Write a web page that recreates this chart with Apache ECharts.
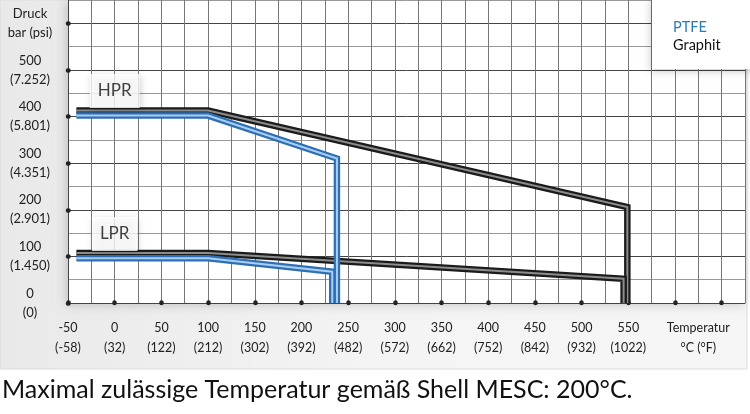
<!DOCTYPE html>
<html><head><meta charset="utf-8">
<script src="https://cdn.jsdelivr.net/npm/echarts@6/dist/echarts.min.js"></script>
<style>html,body{margin:0;padding:0;background:#fff}#c{width:750px;height:414px}</style>
</head><body><div id="c"></div>
<script>
// Tick values and labels
const xTickValues = [-50, 0, 50, 100, 150, 200, 250, 300, 350, 400, 450, 500, 550, 600, 650];
const xLabelValues = [-50, 0, 50, 100, 150, 200, 250, 300, 350, 400, 450, 500, 550, 625];
const xLabels = ['-50\n(-58)', '0\n(32)', '50\n(122)', '100\n(212)', '150\n(302)', '200\n(392)', '250\n(482)',
  '300\n(572)', '350\n(662)', '400\n(752)', '450\n(842)', '500\n(932)', '550\n(1022)', 'Temperatur\n°C (°F)'];
const yTickValues = [0, 100, 200, 300, 400, 500, 600];
const yLabels = ['0\n(0)', '100\n(1.450)', '200\n(2.901)', '300\n(4.351)', '400\n(5.801)', '500\n(7.252)', 'Druck\nbar (psi)'];

// Series values [temperature °C, pressure bar]
const hprGraphit = [[-41, 413], [100, 413], [549, 206], [549, 0]];
const lprGraphit = [[-41, 107], [100, 107], [545, 52], [545, 0]];
const hprPTFE = [[-41, 402], [100, 402], [238, 310], [238, 0]];
const lprPTFE = [[-41, 96], [100, 96], [233, 67], [233, 0]];
const groupLabels = [[0, 455, 'HPR'], [0, 148, 'LPR']];

const FONT = 'Lato, "DejaVu Sans", sans-serif';
const chart = echarts.init(document.getElementById('c'), null, {renderer: 'canvas'});

function tube(name, data, outer, inner) {
  return [
    {name, type: 'line', data, symbol: 'none', silent: true,
     lineStyle: {color: outer, width: 6.5, join: 'miter', cap: 'butt'}},
    {name, type: 'line', data, symbol: 'none', silent: true,
     lineStyle: {color: inner, width: 2, join: 'miter', cap: 'butt'}}
  ];
}

const xLabelMap = {}; xLabelValues.forEach((v, i) => xLabelMap[v] = xLabels[i]);
const yLabelMap = {}; yTickValues.forEach((v, i) => yLabelMap[v] = yLabels[i]);

const dotTick = values => ({show: true, customValues: values, length: 0.5, inside: true,
  lineStyle: {color: '#222', width: 4.5, cap: 'round'}});

chart.setOption({
  animation: false,
  backgroundColor: '#fff',
  graphic: [{
    type: 'rect', z: -100, silent: true,
    shape: {x: 0, y: 0, width: 747, height: 369},
    style: {
      fill: {type: 'linear', x: 0, y: 0, x2: 1, y2: 0,
        colorStops: [{offset: 0, color: '#e9e9e9'}, {offset: 0.5, color: '#f4f4f4'}, {offset: 1, color: '#f6f6f6'}]},
      stroke: '#dcdcdc', lineWidth: 1
    }
  }],
  title: {
    text: 'Maximal zulässige Temperatur gemäß Shell MESC: 200°C.',
    left: -3, top: 372,
    textStyle: {fontFamily: FONT, fontSize: 25, fontWeight: 'normal', color: '#111'}
  },
  legend: {
    data: [{name: 'PTFE', textStyle: {color: '#2b7bb9'}}, {name: 'Graphit', textStyle: {color: '#111'}}],
    orient: 'vertical', left: 652, top: -2,
    icon: 'rect', itemWidth: 0, itemHeight: 0, itemGap: 3,
    padding: [22, 34, 16, 16],
    backgroundColor: '#fff',
    shadowBlur: 8, shadowColor: 'rgba(0,0,0,0.22)', shadowOffsetX: -1, shadowOffsetY: 2,
    selectedMode: false,
    textStyle: {fontFamily: FONT, fontSize: 14.5}
  },
  grid: {
    left: 68, right: 5, top: 0, bottom: 111,
    show: true, backgroundColor: '#fff', borderWidth: 0,
    shadowBlur: 10, shadowColor: 'rgba(0,0,0,0.18)', shadowOffsetX: -2, shadowOffsetY: 2
  },
  xAxis: [{
    type: 'value', min: -50, max: 675, interval: 25, position: 'bottom',
    axisLine: {show: true, onZero: false, lineStyle: {color: '#444', width: 1}},
    axisTick: {show: false}, axisLabel: {show: false},
    splitLine: {show: true, lineStyle: {color: '#777', width: 1}}
  }, {
    type: 'value', min: -50, max: 675, interval: 25, position: 'bottom', offset: 0,
    axisLine: {show: false, onZero: false},
    axisTick: dotTick(xTickValues),
    axisLabel: {show: true, customValues: xLabelValues, margin: 15,
      formatter: v => xLabelMap[v] || '',
      fontFamily: FONT, fontSize: 12.5, lineHeight: 20, color: '#222'},
    splitLine: {show: false}
  }],
  yAxis: [{
    type: 'value', min: 0, max: 650, interval: 50, position: 'left',
    axisLine: {show: true, onZero: false, lineStyle: {color: '#444', width: 1}},
    axisTick: {show: false}, axisLabel: {show: false},
    splitLine: {show: true, lineStyle: {color: ['#444', '#999'], width: 1}}
  }, {
    type: 'value', min: 0, max: 650, interval: 50, position: 'left', offset: 0,
    axisLine: {show: false, onZero: false},
    axisTick: dotTick(yTickValues),
    axisLabel: {show: true, customValues: yTickValues, margin: 38, align: 'center',
      formatter: v => yLabelMap[v] || '',
      fontFamily: FONT, fontSize: 13, lineHeight: 19, color: '#222'},
    splitLine: {show: false}
  }],
  series: [
    ...tube('Graphit', hprGraphit, '#1b1b1b', '#8c8c8c'),
    ...tube('Graphit', lprGraphit, '#1b1b1b', '#8c8c8c'),
    ...tube('PTFE', hprPTFE, '#2f6fb5', '#a9cff2'),
    ...tube('PTFE', lprPTFE, '#2f6fb5', '#a9cff2'),
    {
      name: 'labels', type: 'scatter', data: groupLabels, symbolSize: 0, silent: true,
      label: {show: true, position: 'inside', formatter: p => p.data[2],
        fontFamily: FONT, fontSize: 17, color: '#111',
        backgroundColor: '#fff', padding: [9, 8, 8, 8],
        shadowBlur: 7, shadowColor: 'rgba(0,0,0,0.25)', shadowOffsetX: 1, shadowOffsetY: 2},
      z: 10
    }
  ]
});
</script></body></html>
